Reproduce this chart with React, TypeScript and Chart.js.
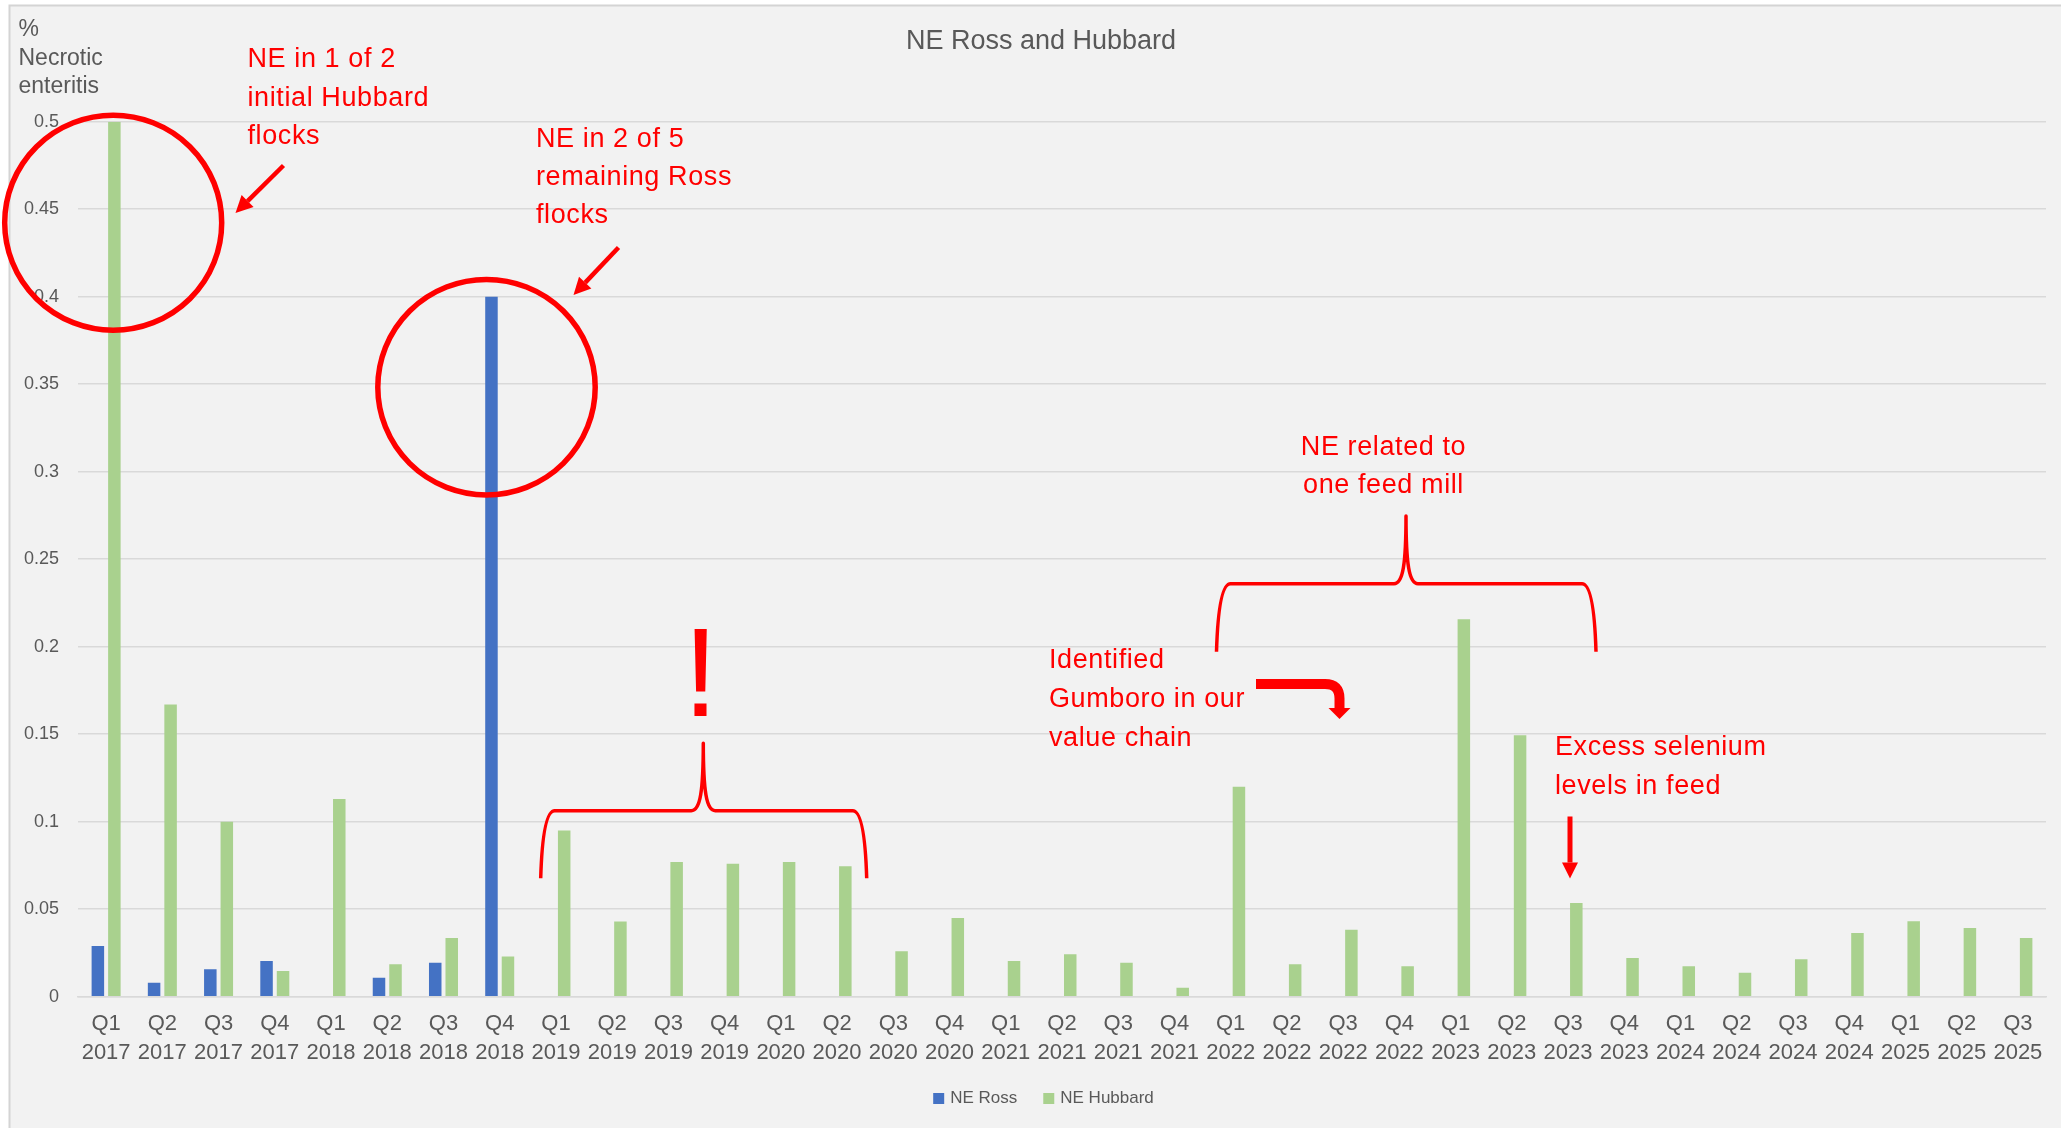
import React, { useEffect, useRef } from "react";
import { Chart, registerables } from "chart.js";

Chart.register(...registerables);

const W = 2061;
const H = 1128;

const categories = [
  "Q1 2017", "Q2 2017", "Q3 2017", "Q4 2017",
  "Q1 2018", "Q2 2018", "Q3 2018", "Q4 2018",
  "Q1 2019", "Q2 2019", "Q3 2019", "Q4 2019",
  "Q1 2020", "Q2 2020", "Q3 2020", "Q4 2020",
  "Q1 2021", "Q2 2021", "Q3 2021", "Q4 2021",
  "Q1 2022", "Q2 2022", "Q3 2022", "Q4 2022",
  "Q1 2023", "Q2 2023", "Q3 2023", "Q4 2023",
  "Q1 2024", "Q2 2024", "Q3 2024", "Q4 2024",
  "Q1 2025", "Q2 2025", "Q3 2025",
];

const neRoss: (number | null)[] = [
  0.029, 0.008, 0.0157, 0.0204,
  0, 0.0109, 0.0194, 0.4,
  null, null, null, null,
  null, null, null, null,
  null, null, null, null,
  null, null, null, null,
  null, null, null, null,
  null, null, null, null,
  null, null, null,
];

const neHubbard: number[] = [
  0.5, 0.167, 0.1, 0.0147,
  0.113, 0.0185, 0.0335, 0.023,
  0.095, 0.043, 0.077, 0.076,
  0.077, 0.0745, 0.026, 0.045,
  0.0204, 0.0242, 0.0194, 0.0051,
  0.12, 0.0185, 0.0383, 0.0174,
  0.2157, 0.1494, 0.0535, 0.0221,
  0.0174, 0.0137, 0.0214, 0.0364,
  0.0431, 0.0393, 0.0335,
];

const seriesNames = ["NE Ross", "NE Hubbard"];
const seriesColors = ["#4472C4", "#A9D18E"];

const chartTitle = "NE Ross and Hubbard";
const yTitleLines = ["%", "Necrotic", "enteritis"];

const FONT = "'Liberation Sans', Arial, sans-serif";
const GRAY = "#595959";
const RED = "#FF0000";

function drawArrow(ctx: CanvasRenderingContext2D, x1: number, y1: number, x2: number, y2: number, lw: number, headLen: number, headHalf: number) {
  const ang = Math.atan2(y2 - y1, x2 - x1);
  const bx = x2 - headLen * Math.cos(ang);
  const by = y2 - headLen * Math.sin(ang);
  ctx.lineWidth = lw;
  ctx.lineCap = "butt";
  ctx.beginPath();
  ctx.moveTo(x1, y1);
  ctx.lineTo(bx, by);
  ctx.stroke();
  const px = -Math.sin(ang);
  const py = Math.cos(ang);
  ctx.beginPath();
  ctx.moveTo(x2, y2);
  ctx.lineTo(bx + px * headHalf, by + py * headHalf);
  ctx.lineTo(bx - px * headHalf, by - py * headHalf);
  ctx.closePath();
  ctx.fill();
}

function drawBrace(ctx: CanvasRenderingContext2D, L: number, R: number, B: number, Hy: number, C: number, P: number) {
  ctx.beginPath();
  ctx.moveTo(L, B);
  ctx.quadraticCurveTo(L + 2, Hy, L + 14, Hy);
  ctx.lineTo(C - 12, Hy);
  ctx.bezierCurveTo(C - 3, Hy, C, Hy - 20, C, P);
  ctx.bezierCurveTo(C, Hy - 20, C + 3, Hy, C + 12, Hy);
  ctx.lineTo(R - 14, Hy);
  ctx.quadraticCurveTo(R - 2, Hy, R, B);
  ctx.stroke();
}

function drawLines(ctx: CanvasRenderingContext2D, lines: string[], x: number, ys: number[]) {
  lines.forEach((t, i) => ctx.fillText(t, x, ys[i]));
}

const overlayPlugin = {
  id: "overlay",
  beforeDraw(chart: any) {
    const ctx: CanvasRenderingContext2D = chart.ctx;
    ctx.save();
    ctx.fillStyle = "#ffffff";
    ctx.fillRect(0, 0, W, H);
    ctx.fillStyle = "#f2f2f2";
    ctx.fillRect(9.5, 5.5, W, H);
    ctx.strokeStyle = "#d4d4d4";
    ctx.lineWidth = 2;
    ctx.beginPath();
    ctx.moveTo(9.5, H);
    ctx.lineTo(9.5, 5.5);
    ctx.lineTo(W, 5.5);
    ctx.stroke();
    ctx.restore();
  },
  afterDraw(chart: any) {
    const ctx: CanvasRenderingContext2D = chart.ctx;
    ctx.save();

    // Title
    ctx.fillStyle = GRAY;
    ctx.textBaseline = "middle";
    ctx.textAlign = "center";
    ctx.font = `27px ${FONT}`;
    ctx.fillText(chartTitle, 1041, 42);

    // Y axis title
    ctx.textAlign = "left";
    ctx.font = `23px ${FONT}`;
    drawLines(ctx, yTitleLines, 18.5, [29.5, 58.5, 86.5]);

    // Legend
    ctx.font = `17px ${FONT}`;
    const w1 = ctx.measureText(seriesNames[0]).width;
    const w2 = ctx.measureText(seriesNames[1]).width;
    const box = 11;
    const total = box + 6 + w1 + 26 + box + 6 + w2;
    let lx = 1043.5 - total / 2;
    const ly = 1098.5;
    ctx.fillStyle = seriesColors[0];
    ctx.fillRect(lx, ly - box / 2, box, box);
    ctx.fillStyle = GRAY;
    ctx.fillText(seriesNames[0], lx + box + 6, ly);
    lx += box + 6 + w1 + 26;
    ctx.fillStyle = seriesColors[1];
    ctx.fillRect(lx, ly - box / 2, box, box);
    ctx.fillStyle = GRAY;
    ctx.fillText(seriesNames[1], lx + box + 6, ly);

    // Red annotations
    ctx.fillStyle = RED;
    ctx.strokeStyle = RED;
    ctx.font = `27px ${FONT}`;
    (ctx as any).letterSpacing = "0.6px";
    ctx.textAlign = "left";
    drawLines(ctx, ["NE in 1 of 2", "initial Hubbard", "flocks"], 247.5, [59.5, 98.3, 137]);
    drawLines(ctx, ["NE in 2 of 5", "remaining Ross", "flocks"], 536, [140, 178, 216]);
    drawLines(ctx, ["Identified", "Gumboro in our", "value chain"], 1049, [661, 700, 739]);
    drawLines(ctx, ["Excess selenium", "levels in feed"], 1555, [748, 787]);
    ctx.textAlign = "center";
    drawLines(ctx, ["NE related to", "one feed mill"], 1383.5, [448, 486]);
    (ctx as any).letterSpacing = "0px";

    // Exclamation mark
    ctx.font = `127px ${FONT}`;
    ctx.textBaseline = "alphabetic";
    ctx.fillText("!", 700.7, 716);

    // Circles
    ctx.lineWidth = 5.5;
    ctx.beginPath();
    ctx.ellipse(113.2, 222.7, 108.5, 107.5, 0, 0, Math.PI * 2);
    ctx.stroke();
    ctx.beginPath();
    ctx.ellipse(486.5, 387.2, 108.7, 107.7, 0, 0, Math.PI * 2);
    ctx.stroke();

    // Diagonal arrows
    drawArrow(ctx, 283.5, 165.5, 235.5, 213, 4.5, 17, 8.5);
    drawArrow(ctx, 618.5, 247.5, 573.5, 295, 4.5, 17, 8.5);

    // Selenium arrow
    drawArrow(ctx, 1570, 816.5, 1570, 878.5, 5, 16, 8);

    // Braces
    ctx.lineWidth = 3.5;
    ctx.lineJoin = "round";
    drawBrace(ctx, 540.7, 866.7, 878.3, 810.7, 703.3, 743.3);
    drawBrace(ctx, 1216.5, 1596, 651.7, 583.7, 1406, 516);

    // Gumboro bent arrow
    ctx.lineWidth = 10;
    ctx.lineJoin = "miter";
    ctx.lineCap = "butt";
    ctx.beginPath();
    ctx.moveTo(1256, 684);
    ctx.lineTo(1325, 684);
    ctx.quadraticCurveTo(1339.5, 684, 1339.5, 698.5);
    ctx.lineTo(1339.5, 708.5);
    ctx.stroke();
    ctx.beginPath();
    ctx.moveTo(1328.5, 708);
    ctx.lineTo(1350.5, 708);
    ctx.lineTo(1339.5, 719);
    ctx.closePath();
    ctx.fill();

    ctx.restore();
  },
};

export default function App() {
  const canvasRef = useRef<HTMLCanvasElement | null>(null);

  useEffect(() => {
    document.body.style.margin = "0";
    const canvas = canvasRef.current;
    if (!canvas) return;
    const labels = categories.map((c) => c.split(" "));
    const chart = new Chart(canvas, {
      type: "bar",
      data: {
        labels,
        datasets: [
          {
            label: seriesNames[0],
            data: neRoss,
            backgroundColor: seriesColors[0],
            borderWidth: 0,
            categoryPercentage: 0.587,
            barPercentage: 0.758,
          },
          {
            label: seriesNames[1],
            data: neHubbard,
            backgroundColor: seriesColors[1],
            borderWidth: 0,
            categoryPercentage: 0.587,
            barPercentage: 0.758,
          },
        ],
      },
      options: {
        animation: false,
        responsive: false,
        maintainAspectRatio: false,
        devicePixelRatio: 1,
        layout: { padding: { left: 0, right: 15, top: 121.7, bottom: 0 } },
        plugins: {
          legend: { display: false },
          title: { display: false },
          tooltip: { enabled: false },
        },
        scales: {
          x: {
            grid: { display: false, drawTicks: false },
            border: { display: true, color: "#d9d9d9", width: 1.5 },
            ticks: {
              color: GRAY,
              font: { family: FONT, size: 22, lineHeight: 1.3 },
              padding: 13,
              maxRotation: 0,
              minRotation: 0,
              autoSkip: false,
            },
            afterFit: (s: any) => {
              s.height = 131.3;
            },
          },
          y: {
            min: 0,
            max: 0.5,
            ticks: {
              stepSize: 0.05,
              color: GRAY,
              font: { family: FONT, size: 18 },
              padding: 19,
              callback: (v: any) => String(Number(Number(v).toFixed(2))),
            },
            grid: { color: "#d9d9d9", lineWidth: 1.5, drawTicks: false },
            border: { display: false },
            afterFit: (s: any) => {
              s.width = 78;
            },
          },
        },
      },
      plugins: [overlayPlugin],
    });
    return () => chart.destroy();
  }, []);

  return (
    <div style={{ position: "absolute", left: 0, top: 0, width: W, height: H }}>
      <canvas ref={canvasRef} width={W} height={H} style={{ display: "block", width: W, height: H }} />
    </div>
  );
}
